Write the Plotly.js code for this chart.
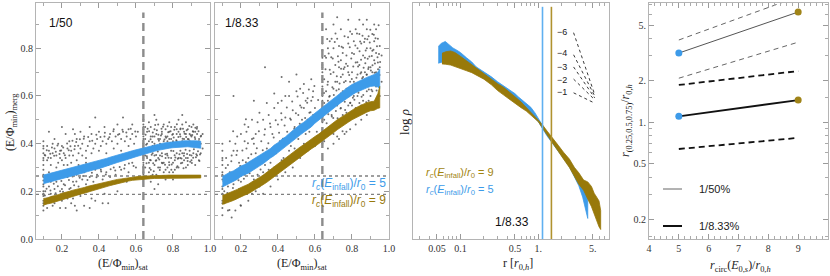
<!DOCTYPE html>
<html><head><meta charset="utf-8">
<script src="https://cdn.plot.ly/plotly-3.0.1.min.js"></script>
<style>html,body{margin:0;padding:0;background:#fff}#c{width:830px;height:276px}</style>
</head><body><div id="c"></div>
<script>
// ---------- data ----------
const satCut = 0.64;
const dottedLevels = [0.264, 0.187];

const cloud50 = [
[0.1,0.41],[0.1,0.38],[0.1,0.36],[0.1,0.34],[0.1,0.31],[0.1,0.29],[0.1,0.27],[0.1,0.245],[0.1,0.22],[0.1,0.2],[0.1,0.18],[0.1,0.16],[0.1,0.14],[0.1,0.12],[0.1,0.33],[0.1,0.23],[0.1,0.19],[0.1,0.15],[0.1,0.39],[0.1,0.26],
[0.11,0.35],[0.12,0.33],[0.13,0.37],[0.14,0.34],[0.15,0.36],[0.16,0.38],[0.17,0.35],[0.18,0.32],[0.19,0.37],[0.2,0.39],[0.21,0.36],[0.22,0.34],[0.23,0.38],[0.24,0.41],[0.25,0.37],[0.26,0.35],[0.27,0.39],[0.28,0.42],[0.29,0.36],[0.3,0.38],[0.31,0.4],[0.32,0.43],[0.33,0.37],[0.34,0.39],[0.35,0.41],[0.36,0.44],[0.37,0.38],[0.38,0.4],[0.39,0.42],[0.4,0.45],[0.41,0.39],[0.42,0.41],[0.43,0.43],[0.44,0.4],[0.45,0.42],[0.46,0.44],[0.47,0.41],[0.48,0.46],[0.49,0.43],[0.5,0.4],[0.51,0.44],[0.52,0.42],[0.53,0.45],[0.54,0.41],[0.55,0.43],[0.56,0.46],[0.57,0.42],[0.58,0.44],[0.59,0.4],[0.6,0.43],[0.61,0.45],[0.12,0.39],[0.14,0.31],[0.16,0.42],[0.18,0.4],[0.2,0.33],[0.22,0.44],[0.24,0.35],[0.26,0.46],[0.28,0.33],[0.3,0.45],[0.33,0.34],[0.36,0.36],[0.4,0.37],[0.44,0.36],[0.48,0.38],[0.52,0.37],[0.56,0.39],[0.15,0.4],[0.19,0.34],[0.23,0.31],[0.27,0.44],[0.31,0.35],[0.35,0.47],[0.43,0.47],[0.5,0.48],[0.58,0.48],[0.38,0.51],
[0.11,0.2],[0.12,0.17],[0.13,0.22],[0.14,0.19],[0.15,0.14],[0.16,0.21],[0.17,0.24],[0.18,0.18],[0.19,0.2],[0.2,0.16],[0.21,0.23],[0.22,0.19],[0.23,0.26],[0.24,0.21],[0.25,0.15],[0.26,0.24],[0.27,0.2],[0.28,0.27],[0.29,0.22],[0.3,0.18],[0.31,0.25],[0.32,0.28],[0.33,0.23],[0.34,0.2],[0.35,0.26],[0.36,0.3],[0.37,0.24],[0.38,0.16],[0.39,0.27],[0.4,0.22],[0.41,0.29],[0.42,0.25],[0.43,0.19],[0.44,0.28],[0.45,0.31],[0.46,0.26],[0.47,0.23],[0.48,0.3],[0.49,0.27],[0.5,0.33],[0.52,0.29],[0.54,0.31],[0.56,0.28],[0.58,0.32],[0.6,0.3],[0.12,0.13],[0.14,0.24],[0.16,0.15],[0.18,0.27],[0.2,0.21],[0.22,0.13],[0.24,0.28],[0.26,0.17],[0.28,0.12],[0.3,0.29],[0.32,0.14],[0.34,0.31],[0.36,0.17],[0.38,0.29],[0.13,0.28],[0.17,0.3],[0.21,0.31],[0.25,0.32],[0.29,0.31],[0.33,0.32],[0.11,0.24],[0.15,0.26],[0.19,0.13],[0.23,0.17],[0.27,0.14],
[0.64,0.26],[0.64,0.28],[0.64,0.3],[0.64,0.32],[0.64,0.34],[0.64,0.36],[0.64,0.38],[0.64,0.4],[0.64,0.42],[0.64,0.44],[0.64,0.46],[0.64,0.48],[0.64,0.5],[0.64,0.27],[0.64,0.31],[0.64,0.35],[0.64,0.39],[0.64,0.43],[0.64,0.47],
[0.65,0.42],[0.66,0.45],[0.67,0.41],[0.68,0.47],[0.69,0.43],[0.7,0.4],[0.71,0.44],[0.72,0.48],[0.73,0.42],[0.74,0.45],[0.75,0.41],[0.76,0.46],[0.77,0.43],[0.78,0.49],[0.79,0.42],[0.8,0.44],[0.81,0.47],[0.82,0.41],[0.83,0.45],[0.84,0.43],[0.85,0.48],[0.86,0.42],[0.87,0.44],[0.88,0.46],[0.89,0.41],[0.9,0.43],[0.91,0.45],[0.92,0.42],[0.93,0.44],[0.94,0.41],[0.95,0.43],[0.66,0.4],[0.68,0.43],[0.7,0.46],[0.72,0.42],[0.74,0.39],[0.76,0.43],[0.78,0.45],[0.8,0.41],[0.82,0.44],[0.84,0.46],[0.86,0.45],[0.88,0.42],[0.9,0.47],[0.92,0.45],[0.67,0.49],[0.71,0.5],[0.75,0.48],[0.79,0.47],[0.83,0.5],[0.87,0.49],[0.91,0.48],[0.69,0.39],[0.73,0.4],[0.77,0.41],[0.81,0.4],[0.85,0.41],[0.89,0.44],[0.93,0.47],[0.65,0.47],[0.7,0.43],[0.74,0.44],[0.78,0.42],[0.82,0.46],[0.86,0.4],
[0.65,0.3],[0.66,0.34],[0.67,0.28],[0.68,0.33],[0.69,0.36],[0.7,0.31],[0.71,0.27],[0.72,0.34],[0.73,0.3],[0.74,0.36],[0.75,0.32],[0.76,0.29],[0.77,0.35],[0.78,0.31],[0.79,0.34],[0.8,0.28],[0.81,0.33],[0.82,0.36],[0.83,0.3],[0.84,0.34],[0.85,0.32],[0.86,0.36],[0.87,0.3],[0.88,0.34],[0.89,0.37],[0.9,0.33],[0.91,0.36],[0.92,0.31],[0.93,0.35],[0.94,0.33],[0.66,0.26],[0.68,0.29],[0.7,0.35],[0.72,0.3],[0.74,0.32],[0.76,0.34],[0.78,0.28],[0.8,0.32],[0.82,0.3],[0.84,0.37],[0.86,0.33],[0.88,0.31],[0.9,0.35],[0.67,0.32],[0.69,0.27],[0.71,0.33],[0.73,0.35],[0.75,0.28],[0.77,0.3],[0.79,0.37],[0.81,0.29],[0.83,0.34],[0.85,0.36],[0.87,0.34],[0.65,0.35],[0.95,0.36],[0.68,0.24],[0.72,0.23],[0.76,0.25],[0.7,0.21],[0.8,0.25],
[0.45,0.15],[0.5,0.2],[0.55,0.24],[0.35,0.13],[0.42,0.15],[0.2,0.47],[0.13,0.45],[0.53,0.51],[0.7,0.52],[0.85,0.52],[0.95,0.4],[0.96,0.44],[0.96,0.38],
[0.652,0.437],[0.657,0.318],[0.663,0.462],[0.668,0.372],[0.674,0.298],[0.679,0.418],[0.685,0.353],[0.691,0.447],[0.696,0.284],[0.702,0.391],[0.707,0.328],[0.713,0.456],[0.718,0.367],[0.724,0.412],[0.729,0.289],[0.735,0.434],[0.741,0.347],[0.746,0.471],[0.752,0.382],[0.757,0.311],[0.763,0.425],[0.768,0.358],[0.774,0.448],[0.779,0.322],[0.785,0.403],[0.791,0.291],[0.796,0.437],[0.802,0.369],[0.807,0.458],[0.813,0.342],[0.818,0.414],[0.824,0.305],[0.829,0.428],[0.835,0.356],[0.841,0.464],[0.846,0.338],[0.852,0.421],[0.857,0.297],[0.863,0.441],[0.868,0.374],[0.874,0.456],[0.879,0.327],[0.885,0.418],[0.891,0.352],[0.896,0.435],[0.902,0.319],[0.907,0.452],[0.913,0.377],[0.918,0.427],[0.924,0.343],[0.929,0.462],[0.935,0.368],[0.941,0.419],[0.946,0.354],[0.952,0.433],
[0.655,0.395],[0.671,0.452],[0.688,0.407],[0.704,0.478],[0.721,0.437],[0.738,0.462],[0.754,0.417],[0.771,0.473],[0.787,0.452],[0.804,0.426],[0.821,0.481],[0.838,0.439],[0.854,0.463],[0.871,0.428],[0.888,0.474],[0.904,0.436],[0.921,0.467],[0.938,0.452],[0.659,0.347],[0.676,0.331],[0.693,0.318],[0.709,0.352],[0.726,0.334],[0.743,0.318],[0.759,0.356],[0.776,0.341],[0.793,0.313],[0.809,0.351],[0.826,0.337],[0.843,0.318],[0.859,0.349],[0.876,0.357],[0.893,0.324],[0.909,0.341],[0.926,0.356],[0.943,0.327],
[0.107,0.352],[0.118,0.372],[0.126,0.341],[0.137,0.358],[0.146,0.384],[0.158,0.349],[0.167,0.366],[0.176,0.392],[0.187,0.357],[0.196,0.371],[0.207,0.384],[0.216,0.351],[0.228,0.401],[0.237,0.372],[0.246,0.389],[0.257,0.412],[0.268,0.376],[0.277,0.407],[0.288,0.391],[0.297,0.418],[0.108,0.183],[0.117,0.211],[0.127,0.157],[0.138,0.203],[0.147,0.176],[0.156,0.232],[0.166,0.192],[0.178,0.221],[0.186,0.168],[0.197,0.243],[0.206,0.198],[0.217,0.226],[0.226,0.187],[0.238,0.248],[0.247,0.214],[0.258,0.262],[0.266,0.226],[0.278,0.241],[0.287,0.276],[0.296,0.257],[0.318,0.421],[0.342,0.428],[0.364,0.412],[0.386,0.437],[0.408,0.428],[0.432,0.446],[0.456,0.427],[0.478,0.452],[0.503,0.437],[0.527,0.458],[0.548,0.447],[0.572,0.462],[0.596,0.451],[0.315,0.264],[0.338,0.247],[0.362,0.278],[0.387,0.259],[0.412,0.283],[0.437,0.271],[0.463,0.293],[0.488,0.287],[0.512,0.302],[0.537,0.296],[0.562,0.317],[0.587,0.306]
];

const cloud833 = [
[0.1,0.1],[0.1,0.13],[0.1,0.16],[0.1,0.19],[0.1,0.22],[0.1,0.25],[0.1,0.28],[0.1,0.31],[0.1,0.34],[0.1,0.37],[0.1,0.4],[0.1,0.15],[0.1,0.21],[0.1,0.27],[0.1,0.33],
[0.11,0.2],[0.12,0.26],[0.13,0.31],[0.14,0.18],[0.15,0.35],[0.16,0.23],[0.17,0.4],[0.18,0.29],[0.19,0.21],[0.2,0.44],[0.21,0.33],[0.22,0.27],[0.23,0.38],[0.24,0.47],[0.25,0.3],[0.26,0.42],[0.27,0.25],[0.28,0.36],[0.29,0.49],[0.3,0.33],[0.31,0.41],[0.32,0.28],[0.33,0.46],[0.34,0.38],[0.35,0.52],[0.36,0.32],[0.37,0.44],[0.38,0.55],[0.39,0.36],[0.4,0.48],[0.41,0.41],[0.42,0.58],[0.43,0.34],[0.44,0.51],[0.45,0.45],[0.46,0.6],[0.47,0.39],[0.48,0.54],[0.49,0.47],[0.5,0.62],[0.51,0.42],[0.52,0.56],[0.53,0.5],[0.54,0.65],[0.55,0.44],[0.56,0.59],[0.57,0.53],[0.58,0.48],[0.59,0.62],[0.6,0.55],[0.61,0.45],
[0.12,0.34],[0.14,0.28],[0.16,0.37],[0.18,0.43],[0.2,0.24],[0.22,0.41],[0.24,0.34],[0.26,0.19],[0.28,0.44],[0.3,0.22],[0.32,0.5],[0.34,0.27],[0.36,0.47],[0.38,0.3],[0.4,0.57],[0.42,0.33],[0.44,0.6],[0.46,0.37],[0.48,0.45],[0.5,0.35],[0.52,0.63],[0.54,0.4],[0.56,0.5],[0.58,0.67],[0.6,0.42],
[0.11,0.15],[0.13,0.22],[0.15,0.27],[0.17,0.17],[0.19,0.32],[0.21,0.2],[0.23,0.45],[0.25,0.23],[0.27,0.4],[0.29,0.27],[0.31,0.24],[0.33,0.31],[0.35,0.29],[0.37,0.35],[0.39,0.27],[0.41,0.31],[0.43,0.42],[0.45,0.32],[0.47,0.5],[0.49,0.38],[0.51,0.52],[0.53,0.38],[0.55,0.58],[0.57,0.45],[0.59,0.52],
[0.14,0.41],[0.18,0.37],[0.22,0.48],[0.26,0.5],[0.3,0.53],[0.34,0.57],[0.38,0.61],[0.42,0.5],[0.46,0.66],[0.5,0.69],[0.54,0.55],[0.58,0.58],[0.2,0.14],[0.24,0.16],[0.28,0.2],[0.32,0.19],[0.36,0.22],[0.4,0.25],[0.44,0.28],[0.48,0.3],[0.52,0.34],[0.56,0.37],[0.6,0.39],[0.13,0.12],[0.17,0.12],[0.15,0.09],[0.33,0.72],[0.16,0.6],[0.42,0.68],[0.27,0.58],
[0.64,0.4],[0.64,0.43],[0.64,0.46],[0.64,0.49],[0.64,0.52],[0.64,0.55],[0.64,0.58],[0.64,0.61],[0.64,0.64],[0.64,0.67],[0.64,0.7],[0.64,0.73],[0.64,0.76],[0.64,0.79],[0.64,0.82],[0.64,0.45],[0.64,0.6],[0.64,0.72],
[0.65,0.5],[0.66,0.62],[0.67,0.44],[0.68,0.71],[0.69,0.55],[0.7,0.8],[0.71,0.48],[0.72,0.66],[0.73,0.59],[0.74,0.75],[0.75,0.52],[0.76,0.85],[0.77,0.63],[0.78,0.7],[0.79,0.57],[0.8,0.78],[0.81,0.66],[0.82,0.88],[0.83,0.6],[0.84,0.73],[0.85,0.82],[0.86,0.68],[0.87,0.76],[0.88,0.62],[0.89,0.85],[0.9,0.72],[0.91,0.79],[0.92,0.66],[0.93,0.88],[0.94,0.74],[0.95,0.81],
[0.65,0.41],[0.66,0.76],[0.67,0.58],[0.68,0.47],[0.69,0.84],[0.7,0.63],[0.71,0.73],[0.72,0.43],[0.73,0.81],[0.74,0.61],[0.75,0.69],[0.76,0.5],[0.77,0.77],[0.78,0.56],[0.79,0.87],[0.8,0.64],[0.81,0.52],[0.82,0.74],[0.83,0.8],[0.84,0.57],[0.85,0.7],[0.86,0.9],[0.87,0.64],[0.88,0.8],[0.89,0.58],[0.9,0.67],[0.91,0.86],[0.92,0.75],[0.93,0.7],[0.94,0.84],
[0.65,0.67],[0.66,0.53],[0.67,0.8],[0.68,0.6],[0.69,0.45],[0.7,0.7],[0.71,0.58],[0.72,0.84],[0.73,0.5],[0.74,0.68],[0.75,0.78],[0.76,0.6],[0.77,0.53],[0.78,0.82],[0.79,0.66],[0.8,0.56],[0.81,0.83],[0.82,0.62],[0.83,0.69],[0.84,0.86],[0.85,0.63],[0.86,0.77],[0.87,0.7],[0.88,0.88],[0.89,0.72],[0.9,0.6],[0.91,0.7],[0.92,0.83],[0.93,0.78],[0.95,0.72],
[0.65,0.57],[0.66,0.45],[0.67,0.66],[0.68,0.83],[0.69,0.52],[0.7,0.44],[0.71,0.66],[0.72,0.56],[0.73,0.72],[0.74,0.55],[0.75,0.62],[0.76,0.72],[0.77,0.45],[0.78,0.63],[0.79,0.5],[0.8,0.7],[0.81,0.6],[0.82,0.55],[0.83,0.52],[0.84,0.65],[0.85,0.56],[0.86,0.58],[0.87,0.84],[0.88,0.69],[0.89,0.66],[0.9,0.8],[0.91,0.62],[0.92,0.9],[0.93,0.64],[0.94,0.68],
[0.66,0.88],[0.7,0.9],[0.74,0.88],[0.78,0.92],[0.84,0.92],[0.72,0.93],[0.8,0.86],[0.88,0.92],[0.67,0.38],[0.7,0.4],[0.73,0.42],[0.76,0.44],[0.79,0.46],[0.82,0.48],[0.85,0.5],[0.88,0.52],[0.95,0.6],[0.96,0.66],[0.96,0.77],[0.9,0.55],[0.94,0.58],
[0.652,0.534],[0.657,0.712],[0.663,0.486],[0.668,0.647],[0.674,0.778],[0.679,0.563],[0.685,0.692],[0.691,0.514],[0.696,0.757],[0.702,0.604],[0.707,0.826],[0.713,0.537],[0.718,0.683],[0.724,0.767],[0.729,0.628],[0.735,0.473],[0.741,0.714],[0.746,0.586],[0.752,0.802],[0.757,0.658],[0.763,0.541],[0.768,0.735],[0.774,0.613],[0.779,0.846],[0.785,0.688],[0.791,0.572],[0.796,0.757],[0.802,0.632],[0.807,0.724],[0.813,0.584],[0.818,0.812],[0.824,0.676],[0.829,0.741],[0.835,0.613],[0.841,0.788],[0.846,0.694],[0.852,0.597],[0.857,0.853],[0.863,0.718],[0.868,0.642],[0.874,0.791],[0.879,0.689],[0.885,0.756],[0.891,0.627],[0.896,0.824],[0.902,0.707],[0.907,0.768],[0.913,0.652],[0.918,0.857],[0.924,0.736],[0.929,0.687],[0.935,0.809],[0.941,0.712],[0.946,0.776],[0.952,0.742],
[0.649,0.612],[0.654,0.768],[0.661,0.434],[0.666,0.839],[0.672,0.523],[0.677,0.597],[0.683,0.452],[0.688,0.762],[0.694,0.637],[0.699,0.508],[0.705,0.582],[0.711,0.862],[0.716,0.623],[0.722,0.507],[0.727,0.744],[0.733,0.652],[0.738,0.547],[0.744,0.806],[0.749,0.452],[0.755,0.713],[0.761,0.576],[0.766,0.663],[0.772,0.496],[0.777,0.726],[0.783,0.599],[0.788,0.804],[0.794,0.532],[0.799,0.671],[0.805,0.593],[0.811,0.776],[0.816,0.651],[0.822,0.528],[0.827,0.862],[0.833,0.724],[0.838,0.641],[0.844,0.828],[0.849,0.752],[0.855,0.674],[0.861,0.604],[0.866,0.826],[0.872,0.737],[0.877,0.574],[0.883,0.838],[0.888,0.713],[0.894,0.766],[0.899,0.878],[0.905,0.626],[0.911,0.729],[0.916,0.794],[0.922,0.697],[0.927,0.842],[0.933,0.623],[0.938,0.762],[0.944,0.897],[0.949,0.688],
[0.106,0.242],[0.118,0.298],[0.127,0.193],[0.136,0.265],[0.148,0.326],[0.157,0.214],[0.168,0.281],[0.176,0.352],[0.187,0.246],[0.196,0.306],[0.208,0.371],[0.216,0.253],[0.227,0.322],[0.238,0.402],[0.247,0.276],[0.256,0.356],[0.268,0.423],[0.277,0.304],[0.286,0.381],[0.297,0.452],[0.306,0.292],[0.318,0.372],[0.327,0.437],[0.336,0.336],[0.348,0.402],[0.357,0.484],[0.366,0.378],[0.377,0.426],[0.388,0.498],[0.397,0.392],[0.406,0.446],[0.418,0.527],[0.427,0.421],[0.436,0.476],[0.448,0.552],[0.457,0.432],[0.466,0.506],[0.477,0.577],[0.488,0.462],[0.497,0.528],[0.506,0.598],[0.518,0.483],[0.527,0.552],[0.536,0.612],[0.547,0.508],[0.558,0.572],[0.567,0.627],[0.576,0.532],[0.588,0.596],[0.597,0.642],[0.606,0.518],[0.617,0.583],[0.158,0.452],[0.227,0.502],[0.198,0.142],[0.138,0.122],[0.247,0.198]
];

// running-median bands, panel 1/50
const bandX50 = [0.1,0.12,0.14,0.16,0.18,0.2,0.22,0.24,0.26,0.28,0.3,0.32,0.34,0.36,0.38,0.4,0.42,0.44,0.46,0.48,0.5,0.52,0.54,0.56,0.58,0.6,0.62,0.64,0.66,0.68,0.7,0.72,0.74,0.76,0.78,0.8,0.82,0.84,0.86,0.88,0.9,0.92,0.94,0.95];
const blue50Up = [0.268,0.272,0.277,0.281,0.284,0.29,0.293,0.297,0.3,0.306,0.308,0.313,0.316,0.322,0.326,0.329,0.334,0.338,0.343,0.348,0.352,0.356,0.362,0.366,0.37,0.374,0.378,0.383,0.388,0.391,0.395,0.398,0.401,0.404,0.406,0.408,0.41,0.411,0.412,0.412,0.413,0.412,0.411,0.41];
const blue50Lo = [0.232,0.238,0.24,0.245,0.25,0.252,0.258,0.26,0.266,0.27,0.274,0.278,0.283,0.286,0.292,0.295,0.3,0.306,0.31,0.316,0.321,0.326,0.33,0.336,0.34,0.345,0.349,0.354,0.36,0.364,0.368,0.372,0.376,0.379,0.381,0.383,0.385,0.386,0.386,0.387,0.386,0.384,0.382,0.381];
const gold50Up = [0.17,0.172,0.178,0.181,0.186,0.192,0.195,0.2,0.205,0.208,0.213,0.216,0.221,0.225,0.228,0.232,0.236,0.24,0.243,0.246,0.25,0.252,0.255,0.257,0.259,0.261,0.263,0.264,0.265,0.266,0.267,0.267,0.268,0.268,0.268,0.268,0.268,0.268,0.268,0.268,0.268,0.268,0.268,0.268];
const gold50Lo = [0.142,0.147,0.15,0.156,0.16,0.165,0.17,0.174,0.178,0.183,0.188,0.192,0.197,0.2,0.205,0.21,0.214,0.219,0.224,0.228,0.232,0.236,0.24,0.243,0.246,0.248,0.25,0.251,0.252,0.253,0.254,0.255,0.255,0.256,0.256,0.256,0.256,0.257,0.257,0.257,0.257,0.256,0.256,0.256];
// panel 1/8.33
const blue833Up = [0.262,0.272,0.28,0.286,0.296,0.306,0.312,0.322,0.33,0.342,0.35,0.36,0.372,0.38,0.394,0.404,0.418,0.428,0.442,0.456,0.466,0.48,0.49,0.504,0.518,0.528,0.54,0.552,0.566,0.578,0.59,0.604,0.614,0.626,0.638,0.648,0.656,0.664,0.67,0.678,0.684,0.69,0.7,0.712];
const blue833Lo = [0.218,0.226,0.234,0.242,0.25,0.262,0.27,0.276,0.288,0.296,0.306,0.316,0.326,0.34,0.35,0.362,0.372,0.386,0.398,0.41,0.424,0.436,0.448,0.46,0.47,0.486,0.496,0.51,0.52,0.534,0.548,0.56,0.572,0.584,0.594,0.604,0.614,0.622,0.628,0.634,0.64,0.642,0.638,0.63];
const gold833Up = [0.182,0.188,0.196,0.202,0.208,0.216,0.222,0.23,0.24,0.248,0.258,0.268,0.28,0.292,0.304,0.316,0.328,0.34,0.352,0.364,0.374,0.386,0.396,0.408,0.418,0.43,0.44,0.452,0.466,0.476,0.488,0.5,0.51,0.52,0.532,0.542,0.55,0.558,0.566,0.572,0.576,0.578,0.61,0.64];
const gold833Lo = [0.145,0.15,0.156,0.162,0.17,0.176,0.184,0.19,0.2,0.208,0.218,0.228,0.238,0.25,0.26,0.274,0.286,0.298,0.31,0.322,0.334,0.344,0.356,0.366,0.378,0.388,0.4,0.41,0.422,0.434,0.446,0.458,0.468,0.48,0.49,0.5,0.51,0.518,0.524,0.532,0.538,0.54,0.548,0.55];

// density profiles (log rho, normalised at r = r0)
const rBlue = [0.052,0.057,0.064,0.07,0.08,0.09,0.1,0.12,0.14,0.16,0.2,0.25,0.3,0.36,0.43,0.5,0.55,0.6,0.7,0.8,0.9,1.0,1.1,1.3,1.5,1.8,2.1,2.5,2.9,3.3,3.7,4.0,4.3];
const rhoBlueUp = [1.96,2.04,2.09,2.02,1.92,1.86,1.80,1.66,1.55,1.42,1.30,1.16,1.03,0.92,0.80,0.72,0.64,0.58,0.47,0.36,0.22,0.06,-0.08,-0.32,-0.48,-0.70,-0.88,-1.05,-1.25,-1.40,-1.55,-1.75,-2.05];
const rhoBlueLo = [1.52,1.54,1.58,1.62,1.62,1.58,1.54,1.45,1.36,1.28,1.16,1.02,0.88,0.76,0.63,0.52,0.46,0.40,0.30,0.20,0.08,-0.02,-0.16,-0.40,-0.57,-0.80,-0.98,-1.20,-1.45,-1.70,-2.0,-2.3,-2.56];
const rGold = [0.058,0.065,0.075,0.085,0.1,0.12,0.14,0.16,0.2,0.25,0.3,0.36,0.43,0.5,0.6,0.7,0.8,0.9,1.0,1.1,1.3,1.5,1.8,2.1,2.5,2.9,3.3,3.8,4.3,4.8,5.2,5.6,6.0,6.3];
const rhoGoldUp = [1.78,1.82,1.84,1.80,1.70,1.58,1.47,1.38,1.24,1.11,0.98,0.88,0.76,0.64,0.50,0.36,0.22,0.12,0.04,-0.07,-0.27,-0.42,-0.64,-0.82,-1.00,-1.22,-1.36,-1.55,-1.60,-1.72,-1.90,-2.00,-2.10,-2.35];
const rhoGoldLo = [1.50,1.49,1.47,1.43,1.38,1.32,1.27,1.21,1.10,0.95,0.80,0.68,0.56,0.46,0.35,0.26,0.16,0.07,-0.02,-0.15,-0.40,-0.57,-0.80,-1.00,-1.22,-1.45,-1.66,-1.82,-2.05,-2.25,-2.40,-2.60,-2.78,-2.85];
const rcBlue = 1.13, rcGold = 1.47;
const slopes = [-6,-4,-3,-2,-1];
const slopeStart = [2.32,1.74,1.42,1.10,0.74];
const slopeR = [2.83, 5.28];

// quartile radii vs circular-orbit radius
const rcirc = [5, 9];
const q50Med = [3.14, 6.2], q50Lo = [2.07, 3.76], q50Hi = [3.9, 8.0];
const q833Med = [1.10, 1.44], q833Lo = [0.64, 0.77], q833Hi = [1.85, 2.33];

// ---------- styling ----------
const BLUE = '#3d9be9', GOLD = '#98790a';
const SERIF = 'Liberation Serif, Times New Roman, serif';
const SANS = 'Liberation Sans, Arial, sans-serif';

function band(xs, up, lo, color, xa, ya){
  return {x: xs.concat(xs.slice().reverse()), y: up.concat(lo.slice().reverse()),
    xaxis: xa, yaxis: ya, type:'scatter', mode:'lines', fill:'toself', fillcolor: color,
    line:{color: color, width:0.8}, hoverinfo:'skip'};
}
function cloud(pts, xa, ya){
  return {x: pts.map(p=>p[0]), y: pts.map(p=>p[1]), xaxis: xa, yaxis: ya, type:'scatter', mode:'markers',
    marker:{size:2, color:'#4a4a4a', opacity:0.8}, hoverinfo:'skip'};
}
function seg(x, y, xa, ya, color, width, dash){
  return {x:x, y:y, xaxis:xa, yaxis:ya, type:'scatter', mode:'lines', line:{color:color, width:width, dash:dash||'solid'}, hoverinfo:'skip'};
}

const traces = [];
[[cloud50,'x','y',blue50Up,blue50Lo,gold50Up,gold50Lo],[cloud833,'x2','y2',blue833Up,blue833Lo,gold833Up,gold833Lo]].forEach(p=>{
  traces.push(cloud(p[0],p[1],p[2]));
  dottedLevels.forEach(v=>traces.push(seg([0.06,1.0],[v,v],p[1],p[2],'#808080',1.4,'dot')));
  traces.push(seg([satCut,satCut],[0,0.95],p[1],p[2],'#8c8c8c',2.4,'8px,5px'));
  traces.push(band(bandX50,p[3],p[4],BLUE,p[1],p[2]));
  traces.push(band(bandX50,p[5],p[6],GOLD,p[1],p[2]));
});
traces.push(band(rBlue, rhoBlueUp, rhoBlueLo, BLUE, 'x3','y3'));
traces.push(band(rGold, rhoGoldUp, rhoGoldLo, GOLD, 'x3','y3'));
traces.push(seg([rcBlue,rcBlue],[-3.2,3.0],'x3','y3','#5fb0f0',1.6));
traces.push(seg([rcGold,rcGold],[-3.2,3.0],'x3','y3','#b0922e',1.6));
slopes.forEach((s,i)=>{
  const dl = Math.log10(slopeR[1]) - Math.log10(slopeR[0]);
  traces.push(seg(slopeR,[slopeStart[i], slopeStart[i] + s*dl],'x3','y3','#222',0.9,'3px,3px'));
});
traces.push(seg(rcirc,q50Hi,'x4','y4','#666',1,'5px,4px'));
traces.push(seg(rcirc,q50Lo,'x4','y4','#666',1,'5px,4px'));
traces.push(seg(rcirc,q50Med,'x4','y4','#555',1));
traces.push(seg(rcirc,q833Hi,'x4','y4','#111',1.8,'6px,4px'));
traces.push(seg(rcirc,q833Lo,'x4','y4','#111',1.8,'6px,4px'));
traces.push(seg(rcirc,q833Med,'x4','y4','#111',1.8));
traces.push({x:rcirc, y:q50Med, xaxis:'x4', yaxis:'y4', type:'scatter', mode:'markers', marker:{size:7, color:[BLUE,'#a08418']}, hoverinfo:'skip'});
traces.push({x:rcirc, y:q833Med, xaxis:'x4', yaxis:'y4', type:'scatter', mode:'markers', marker:{size:7, color:[BLUE,'#a08418']}, hoverinfo:'skip'});

const W = 830, H = 276;
const dom = (a,b)=>[a/W, b/W];
const YD = [(H-239)/H, (H-3)/H];
const base = {showline:true, linecolor:'#b4b4b4', linewidth:1, mirror:'allticks', ticks:'inside', ticklen:5, tickwidth:1,
  tickcolor:'#9a9a9a', showgrid:false, zeroline:false, tickfont:{family:SERIF, size:10, color:'#333'}};
const linX = {tickmode:'array', tickvals:[0.2,0.4,0.6,0.8,1.0], ticktext:['0.2','0.4','0.6','0.8','1.0'], range:[0.06,1.0],
  minor:{ticks:'inside', ticklen:3, tickcolor:'#aaa', dtick:0.1, tick0:0}};
const linY = {tickmode:'array', tickvals:[0,0.2,0.4,0.6,0.8], ticktext:['0.0','0.2','0.4','0.6','0.8'], range:[0,0.99],
  minor:{ticks:'inside', ticklen:3, tickcolor:'#aaa', dtick:0.1, tick0:0}};

const A = (text, px, py, o)=>Object.assign({xref:'paper', yref:'paper', x:px/W, y:1-py/H, text:text, showarrow:false,
  xanchor:'center', yanchor:'middle', font:{family:SERIF, size:12, color:'#222'}}, o||{});
const rcLab = v=>'<i>r<sub>c</sub></i>(<i>E</i><sub>infall</sub>)/<i>r</i><sub>0</sub> = '+v;

const annotations = [
  A('(E/Φ<sub>min</sub>)<sub>merg</sub>', 11, 122, {textangle:-90}),
  A('(E/Φ<sub>min</sub>)<sub>sat</sub>', 123, 264),
  A('(E/Φ<sub>min</sub>)<sub>sat</sub>', 302, 264),
  A('r [<i>r</i><sub>0,<i>h</i></sub>]', 518, 264),
  A('log <i>ρ</i>', 405, 122, {textangle:-90, font:{family:SERIF, size:13, color:'#222'}}),
  A('<i>r</i><sub>(0.25,0.5,0.75)</sub>/<i>r</i><sub>0,<i>h</i></sub>', 626, 121, {textangle:-90}),
  A('<i>r</i><sub>circ</sub>(<i>E</i><sub>0,<i>s</i></sub>)/<i>r</i><sub>0,<i>h</i></sub>', 740, 266),
  A('1/50', 47, 23, {xanchor:'left', font:{family:SANS, size:12, color:'#111'}}),
  A('1/8.33', 223, 23, {xanchor:'left', font:{family:SANS, size:12, color:'#111'}}),
  A(rcLab(5), 388, 184, {xanchor:'right', font:{family:SANS, size:12, color:BLUE}}),
  A(rcLab(9), 388, 201, {xanchor:'right', font:{family:SANS, size:12, color:GOLD}}),
  A(rcLab(9), 424, 173, {xanchor:'left', font:{family:SANS, size:11, color:'#a2840f'}}),
  A(rcLab(5), 424, 190, {xanchor:'left', font:{family:SANS, size:11, color:BLUE}}),
  A('1/8.33', 531, 222, {xanchor:'right', font:{family:SANS, size:12, color:'#111'}}),
  A('1/50%', 697, 189, {xanchor:'left', font:{family:SANS, size:11, color:'#222'}}),
  A('1/8.33%', 697, 226, {xanchor:'left', font:{family:SANS, size:11, color:'#222'}})
];
[32,53,67,80,92].forEach((py,i)=>annotations.push(A('\u2212'+Math.abs(slopes[i]), 569, py, {xanchor:'right', font:{family:SANS, size:9, color:'#222'}})));

const layout = {
  width:W, height:H, margin:{l:0,r:0,t:0,b:0}, showlegend:false, paper_bgcolor:'#fff', plot_bgcolor:'#fff',
  xaxis: Object.assign({}, base, linX, {domain:dom(36,210), anchor:'y'}),
  yaxis: Object.assign({}, base, linY, {domain:YD, anchor:'x'}),
  xaxis2: Object.assign({}, base, linX, {domain:dom(215,389), anchor:'y2'}),
  yaxis2: Object.assign({}, base, linY, {domain:YD, anchor:'x2', showticklabels:false}),
  xaxis3: Object.assign({}, base, {domain:dom(413,609), anchor:'y3', type:'log', range:[-1.608,0.906],
    tickmode:'array', tickvals:[0.05,0.1,0.5,1,5], ticktext:['0.05','0.1','0.5','1.','5.'],
    minor:{ticks:'inside', ticklen:3, tickcolor:'#aaa', tickmode:'array', tickvals:[0.03,0.04,0.06,0.07,0.08,0.09,0.2,0.3,0.4,0.6,0.7,0.8,0.9,2,3,4,6,7,8]}}),
  yaxis3: Object.assign({}, base, {domain:YD, anchor:'x3', range:[-3.1,3.1], ticks:'', mirror:true, showticklabels:false}),
  xaxis4: Object.assign({}, base, {domain:dom(649,828), anchor:'y4', range:[4,10], tickmode:'array', tickvals:[4,5,6,7,8,9,10],
    minor:{ticks:'inside', ticklen:3, tickcolor:'#aaa', dtick:0.2, tick0:4}}),
  yaxis4: Object.assign({}, base, {domain:YD, anchor:'x4', type:'log', range:[Math.log10(0.144), Math.log10(7.2)],
    tickmode:'array', tickvals:[0.2,0.5,1,2,5], ticktext:['0.2','0.5','1.','2.','5.'],
    minor:{ticks:'inside', ticklen:3, tickcolor:'#aaa', tickmode:'array', tickvals:[0.15,0.3,0.4,0.6,0.7,0.8,0.9,1.5,3,4,6,7]}}),
  annotations: annotations,
  shapes: [
    {type:'line', xref:'paper', yref:'paper', x0:663/W, x1:682/W, y0:1-189/H, y1:1-189/H, line:{color:'#666', width:1}},
    {type:'line', xref:'paper', yref:'paper', x0:663/W, x1:682/W, y0:1-226/H, y1:1-226/H, line:{color:'#111', width:2}}
  ]
};
Plotly.newPlot('c', traces, layout, {staticPlot:true, displayModeBar:false});
</script></body></html>
